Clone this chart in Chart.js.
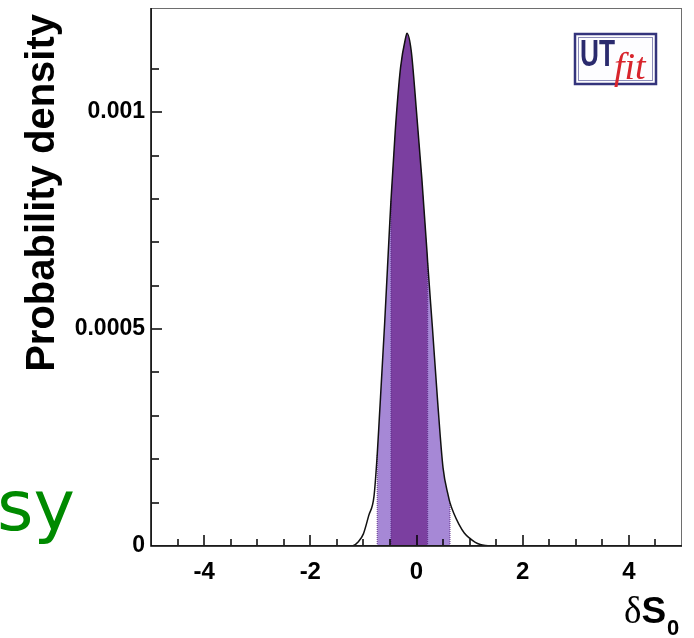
<!DOCTYPE html>
<html>
<head>
<meta charset="utf-8">
<title>Probability density</title>
<script src="https://cdn.jsdelivr.net/npm/chart.js@4.4.1/dist/chart.umd.min.js"></script>
<style>
  body { margin: 0; background: #fff; }
  canvas { display: block; }
</style>
</head>
<body>
<canvas id="grafica" width="694" height="638"></canvas>
<script>
// curve (dS0 vs density)
const xValues = [-5, -1.3, -1.2, -1.1, -1.0, -0.9, -0.8, -0.74, -0.7, -0.6, -0.5, -0.48, -0.4, -0.3, -0.2, -0.18,
  -0.1, 0, 0.1, 0.2, 0.21, 0.3, 0.4, 0.5, 0.6, 0.63, 0.7, 0.8, 0.9, 1.0, 1.1, 1.2, 1.3, 1.4, 1.5, 1.6, 5];
const yValues = [0, 0, 0.0000005, 0.000009, 0.000028, 0.00007, 0.000115, 0.00021, 0.000295, 0.000513, 0.000753, 0.000798,
  0.000957, 0.001103, 0.001174, 0.001182, 0.001142, 0.001001, 0.000848, 0.000674, 0.000654, 0.000503, 0.00033,
  0.00018, 0.000115, 0.0001, 0.000076, 0.00005, 0.00003, 0.000018, 0.000009, 0.0000035, 0.0000012, 0.0000004,
  0.0000003, 0, 0];

// 68% and 95% regions
const darkBand = [-0.48, 0.21];
const lightBand = [-0.74, 0.63];

const xTickLabels = [-4, -2, 0, 2, 4];
const yTickValues = [0, 0.0005, 0.001];
const yTickText = ["0", "0.0005", "0.001"];

const colorOscuro = "#7b3fa0";
const colorClaro = "#a688d6";

function puntos(lo, hi) {
  const out = [];
  xValues.forEach((x, i) => {
    if (x >= lo && x <= hi) out.push({ x: x, y: yValues[i] });
  });
  return out;
}

function borde(x) {
  const y = yValues[xValues.indexOf(x)];
  return [{ x: x, y: 0 }, { x: x, y: y }];
}

function lineaBorde(x) {
  return {
    data: borde(x),
    borderColor: "#5a2a85",
    borderWidth: 1,
    borderDash: [1, 1],
    pointRadius: 0,
    fill: false,
    order: 1
  };
}

const marco = {
  id: "marco",
  afterDatasetsDraw(chart) {
    const { ctx, chartArea: a, scales } = chart;
    ctx.save();
    ctx.strokeStyle = "#000";
    ctx.lineWidth = 1.5;

    scales.x.ticks.forEach(t => {
      if (t.value <= -5 || t.value >= 5) return;
      const px = Math.round(scales.x.getPixelForValue(t.value));
      const len = xTickLabels.includes(t.value) ? 11 : 7;
      ctx.beginPath();
      ctx.moveTo(px, a.bottom);
      ctx.lineTo(px, a.bottom - len);
      ctx.stroke();
    });

    scales.y.ticks.forEach(t => {
      if (t.value <= 0 || t.value >= scales.y.max - 0.00002) return;
      const n = Math.round(t.value * 10000);
      const py = Math.round(scales.y.getPixelForValue(t.value));
      const len = n % 5 === 0 ? 11 : 8;
      ctx.beginPath();
      ctx.moveTo(a.left, py);
      ctx.lineTo(a.left + len, py);
      ctx.stroke();
    });

    ctx.lineWidth = 1;
    ctx.strokeStyle = "#6e6e6e";
    ctx.strokeRect(a.left + 0.5, a.top + 0.5, a.width - 1, a.height - 1);

    ctx.strokeStyle = "#000";
    ctx.lineWidth = 1.5;
    ctx.beginPath();
    ctx.moveTo(a.left, a.top);
    ctx.lineTo(a.left, a.bottom);
    ctx.lineTo(a.right, a.bottom);
    ctx.stroke();
    ctx.restore();
  },
  afterDraw(chart) {
    const ctx = chart.ctx;
    ctx.save();

    // y title
    ctx.translate(54, 14);
    ctx.rotate(-Math.PI / 2);
    ctx.font = "bold 40px 'Liberation Sans'";
    ctx.fillStyle = "#000";
    ctx.textAlign = "right";
    ctx.textBaseline = "alphabetic";
    ctx.fillText("Probability density", 0, 0);
    ctx.restore();

    // x title
    ctx.save();
    ctx.fillStyle = "#000";
    ctx.textBaseline = "alphabetic";
    ctx.textAlign = "left";
    ctx.font = "37px 'Liberation Serif'";
    ctx.fillText("δ", 624, 623);
    let x = 624 + ctx.measureText("δ").width;
    ctx.font = "bold 37px 'Liberation Sans'";
    ctx.fillText("S", x, 623);
    x += ctx.measureText("S").width;
    ctx.font = "bold 22px 'Liberation Sans'";
    ctx.fillText("0", x + 1, 635);

    // logo
    ctx.fillStyle = "#fdfdff";
    ctx.fillRect(575, 34, 81, 50);
    ctx.strokeStyle = "#34347c";
    ctx.lineWidth = 2.5;
    ctx.strokeRect(575, 34, 81, 50);
    ctx.lineWidth = 1;
    ctx.strokeStyle = "#8c8cb8";
    ctx.strokeRect(578.5, 37.5, 74, 43);
    ctx.font = "bold 36px 'Liberation Sans'";
    ctx.fillStyle = "#2a2a6e";
    ctx.fillText("UT", 580, 66, 35);
    ctx.font = "italic 38px 'Liberation Serif'";
    ctx.fillStyle = "#d8242c";
    ctx.fillText("fit", 614, 79);

    // leftover from slide
    ctx.font = "70px 'DejaVu Sans'";
    ctx.fillStyle = "#008a00";
    ctx.fillText("sy", -3, 530);
    ctx.restore();
  }
};

const ctx = document.getElementById("grafica").getContext("2d");
new Chart(ctx, {
  type: "line",
  data: {
    datasets: [
      {
        data: puntos(-5, 5),
        borderColor: "#111",
        borderWidth: 1.5,
        pointRadius: 0,
        fill: false,
        cubicInterpolationMode: "monotone",
        order: 0
      },
      lineaBorde(darkBand[0]),
      lineaBorde(darkBand[1]),
      lineaBorde(lightBand[0]),
      lineaBorde(lightBand[1]),
      {
        data: puntos(darkBand[0], darkBand[1]),
        borderWidth: 0,
        backgroundColor: colorOscuro,
        pointRadius: 0,
        fill: "origin",
        cubicInterpolationMode: "monotone",
        order: 2
      },
      {
        data: puntos(lightBand[0], lightBand[1]),
        borderWidth: 0,
        backgroundColor: colorClaro,
        pointRadius: 0,
        fill: "origin",
        cubicInterpolationMode: "monotone",
        order: 3
      }
    ]
  },
  options: {
    responsive: false,
    animation: false,
    layout: { padding: { top: 8, right: 12, left: 0, bottom: 0 } },
    plugins: { legend: { display: false }, tooltip: { enabled: false } },
    scales: {
      x: {
        type: "linear",
        min: -5,
        max: 5,
        grid: { display: false, drawTicks: false },
        border: { display: false },
        ticks: {
          stepSize: 0.5,
          autoSkip: false,
          maxRotation: 0,
          padding: 12,
          color: "#000",
          font: { family: "'Liberation Sans'", weight: "bold", size: 24 },
          callback: v => (xTickLabels.includes(v) ? String(v) : "")
        },
        afterFit: s => { s.height = 92; }
      },
      y: {
        min: 0,
        max: 0.00124,
        grid: { display: false, drawTicks: false },
        border: { display: false },
        ticks: {
          stepSize: 0.0001,
          autoSkip: false,
          padding: 6,
          color: "#000",
          font: { family: "'Liberation Sans'", weight: "bold", size: 23 },
          callback: v => {
            const i = yTickValues.findIndex(t => Math.abs(t - v) < 1e-9);
            return i >= 0 ? yTickText[i] : "";
          }
        },
        afterFit: s => {
          s.width = 151;
          s.paddingTop = 0;
          s.paddingBottom = 0;
        }
      }
    }
  },
  plugins: [marco]
});
</script>
</body>
</html>
